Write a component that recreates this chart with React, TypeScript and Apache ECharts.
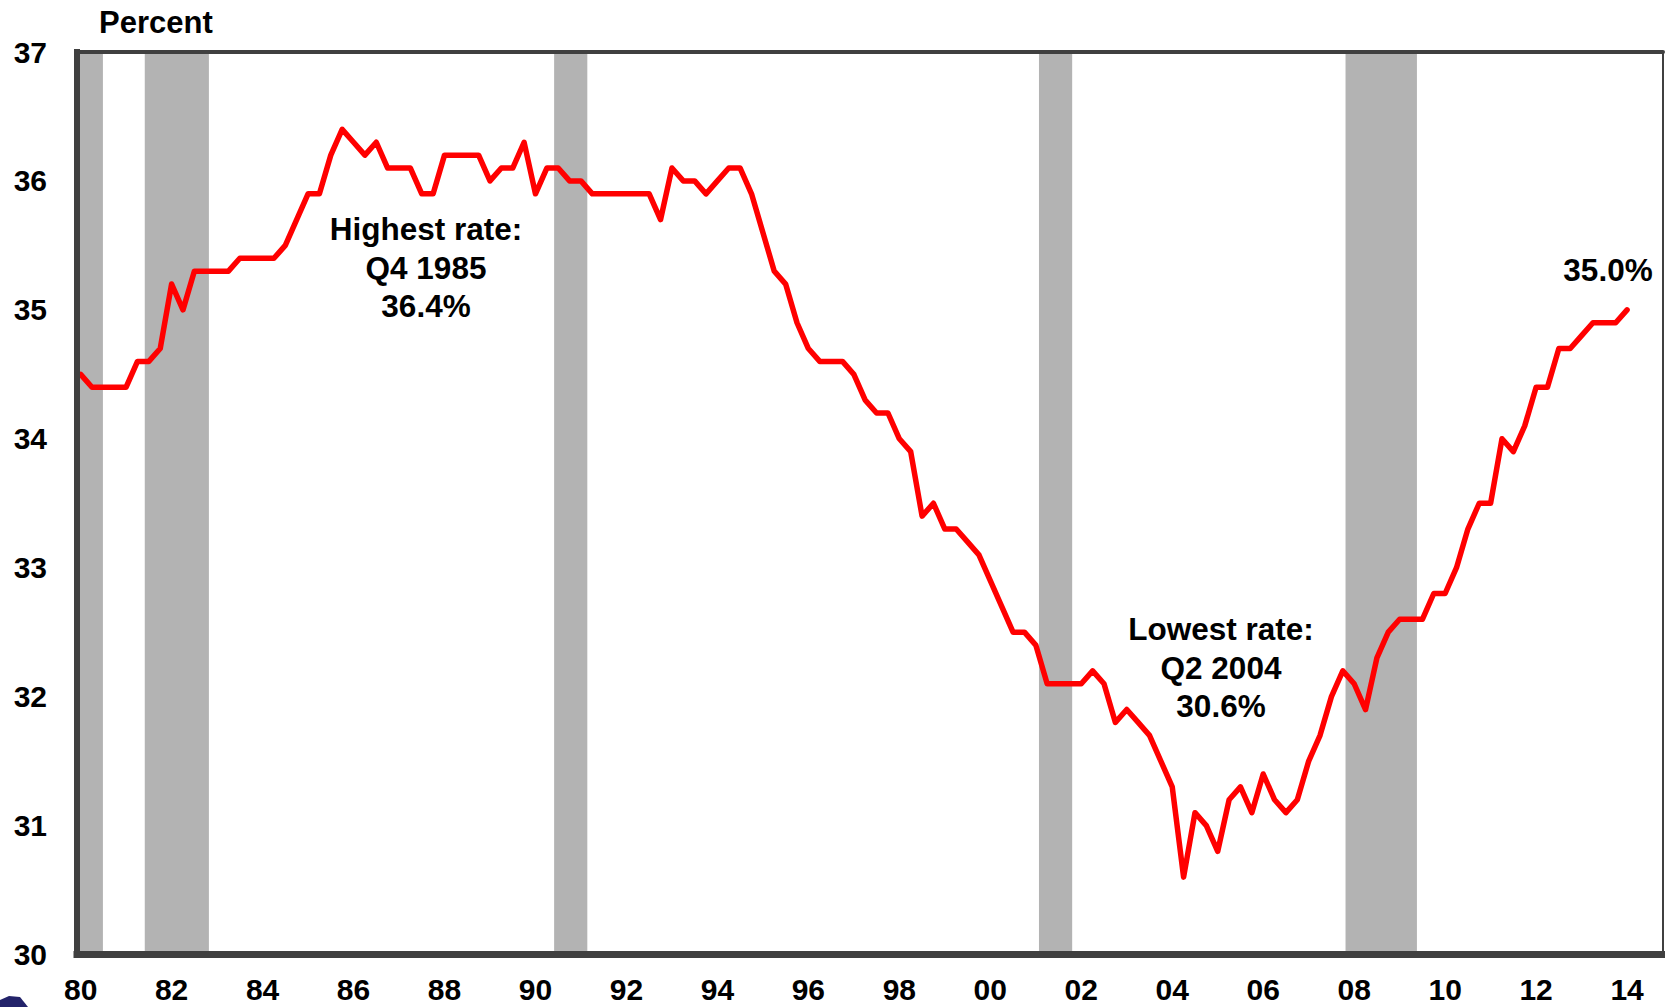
import React, { useEffect, useRef } from "react";
import * as echarts from "echarts";

// Quarterly series, first point = 1980 Q1
const firstYear = 1980;
const values1980s = [
  34.5, 34.4, 34.4, 34.4, 34.4, 34.6, 34.6, 34.7, 35.2, 35.0,
  35.3, 35.3, 35.3, 35.3, 35.4, 35.4, 35.4, 35.4, 35.5, 35.7,
  35.9, 35.9, 36.2, 36.4, 36.3, 36.2, 36.3, 36.1, 36.1, 36.1,
  35.9, 35.9, 36.2, 36.2, 36.2, 36.2, 36.0, 36.1, 36.1, 36.3,
];
const values1990s = [
  35.9, 36.1, 36.1, 36.0, 36.0, 35.9, 35.9, 35.9, 35.9, 35.9,
  35.9, 35.7, 36.1, 36.0, 36.0, 35.9, 36.0, 36.1, 36.1, 35.9,
  35.6, 35.3, 35.2, 34.9, 34.7, 34.6, 34.6, 34.6, 34.5, 34.3,
  34.2, 34.2, 34.0, 33.9, 33.4, 33.5, 33.3, 33.3, 33.2, 33.1,
];
const values2000s = [
  32.9, 32.7, 32.5, 32.5, 32.4, 32.1, 32.1, 32.1, 32.1, 32.2,
  32.1, 31.8, 31.9, 31.8, 31.7, 31.5, 31.3, 30.6, 31.1, 31.0,
  30.8, 31.2, 31.3, 31.1, 31.4, 31.2, 31.1, 31.2, 31.5, 31.7,
  32.0, 32.2, 32.1, 31.9, 32.3, 32.5, 32.6, 32.6, 32.6, 32.8,
];
const values2010s = [
  32.8, 33.0, 33.3, 33.5, 33.5, 34.0, 33.9, 34.1, 34.4, 34.4,
  34.7, 34.7, 34.8, 34.9, 34.9, 34.9, 35.0,
];

// Recession shading (start, end) in fractional years
const recessions: [number, number][] = [
  [1979.95, 1980.49],
  [1981.41, 1982.82],
  [1990.41, 1991.14],
  [2001.07, 2001.8],
  [2007.81, 2009.38],
];

// x tick labels (every second year)
const xTickYears = [
  1980, 1982, 1984, 1986, 1988, 1990, 1992, 1994, 1996, 1998,
  2000, 2002, 2004, 2006, 2008, 2010, 2012, 2014,
];
const yMin = 30;
const yMax = 37;

const FONT = "'Liberation Sans', Arial, Helvetica, sans-serif";
const AXIS_COLOR = "#404040";

export default function App() {
  const ref = useRef<HTMLDivElement>(null);

  useEffect(() => {
    document.body.style.margin = "0";
    document.body.style.overflow = "hidden";
    if (!ref.current) return;
    const chart = echarts.init(ref.current, undefined, { renderer: "svg" });

    const allValues = [...values1980s, ...values1990s, ...values2000s, ...values2010s];
    const lineData = allValues.map((v, i) => [firstYear + i / 4, v]);

    const xMin = 1979.92;
    const xMax = 2014.79;

    const mkText = (text: string, x: number, y: number, size: number, align = "center") => ({
      type: "text",
      x,
      y,
      z: 20,
      style: {
        fill: "#000",
        text,
        fontFamily: FONT,
        fontWeight: "bold",
        fontSize: size,
        font: `bold ${size}px ${FONT}`,
        align,
        verticalAlign: "middle",
        textAlign: align,
        textVerticalAlign: "middle",
      },
    });

    chart.setOption({
      animation: false,
      backgroundColor: "#ffffff",
      grid: { left: 77, top: 52, right: 2, bottom: 52.5, containLabel: false },
      xAxis: [
        {
          type: "value",
          min: xMin,
          max: xMax,
          position: "bottom",
          z: 10,
          axisLine: { show: true, onZero: false, lineStyle: { color: AXIS_COLOR, width: 7, cap: "square" } },
          axisTick: { show: false },
          splitLine: { show: false },
          axisLabel: {
            customValues: xTickYears,
            formatter: (v: number) => String(Math.round(v) % 100).padStart(2, "0"),
            color: "#000",
            fontFamily: FONT,
            fontWeight: "bold",
            fontSize: 30,
            margin: 20,
          },
        },
        {
          type: "value",
          min: xMin,
          max: xMax,
          position: "top",
          z: 10,
          axisLine: { show: true, onZero: false, lineStyle: { color: AXIS_COLOR, width: 4 } },
          axisTick: { show: false },
          splitLine: { show: false },
          axisLabel: { show: false },
        },
      ],
      yAxis: [
        {
          type: "value",
          min: yMin,
          max: yMax,
          interval: 1,
          position: "left",
          z: 10,
          axisLine: { show: true, onZero: false, lineStyle: { color: AXIS_COLOR, width: 6, cap: "square" } },
          axisTick: { show: false },
          splitLine: { show: false },
          axisLabel: {
            color: "#000",
            fontFamily: FONT,
            fontWeight: "bold",
            fontSize: 30,
            margin: 30,
            padding: [0, 0, 3, 0],
          },
        },
        {
          type: "value",
          min: yMin,
          max: yMax,
          interval: 1,
          position: "right",
          z: 10,
          axisLine: { show: true, onZero: false, lineStyle: { color: AXIS_COLOR, width: 2 } },
          axisTick: { show: false },
          splitLine: { show: false },
          axisLabel: { show: false },
        },
      ],
      series: [
        {
          type: "line",
          name: "bands",
          data: [],
          z: 1,
          silent: true,
          markArea: {
            silent: true,
            itemStyle: { color: "#b3b3b3", opacity: 1, borderWidth: 0 },
            data: recessions.map(([a, b]) => [{ xAxis: a }, { xAxis: b }]),
          },
        },
        {
          type: "line",
          name: "rate",
          data: lineData,
          z: 3,
          showSymbol: false,
          symbol: "none",
          lineStyle: { color: "#ff0000", width: 5.5, join: "round", cap: "round" },
          silent: true,
        },
      ],
      graphic: [
        mkText("Percent", 99, 22.5, 31, "left"),
        mkText("Highest rate:", 426, 229, 31.5),
        mkText("Q4 1985", 426, 267.5, 31.5),
        mkText("36.4%", 426, 306, 31.5),
        mkText("Lowest rate:", 1221, 629, 31.5),
        mkText("Q2 2004", 1221, 667.5, 31.5),
        mkText("30.6%", 1221, 706, 31.5),
        mkText("35.0%", 1608, 269.5, 31.5),
        {
          type: "polygon",
          z: 20,
          shape: { points: [[0, 1007], [0, 1000], [9, 996], [20, 997], [28, 1007]] },
          style: { fill: "#23236a" },
        },
      ],
    });

    return () => {
      chart.dispose();
    };
  }, []);

  return <div ref={ref} style={{ width: 1665, height: 1007 }} />;
}
